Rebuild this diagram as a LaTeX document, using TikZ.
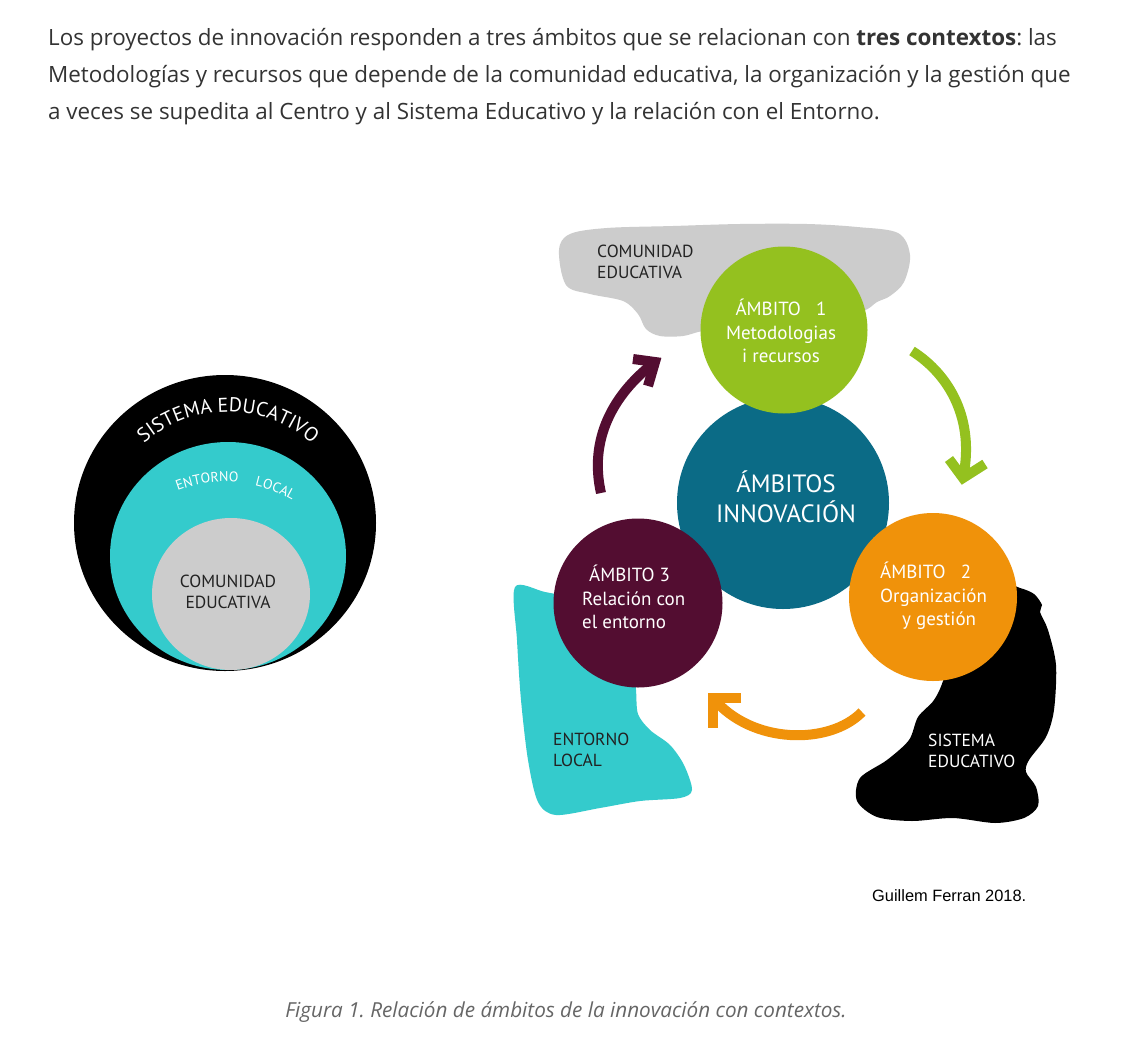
\documentclass[tikz,border=0pt]{standalone}
\usepackage{fontspec}
\setmainfont{Open Sans}
\newfontfamily\dfont{PT Sans}
\newfontfamily\arialf{Liberation Sans}
\usetikzlibrary{decorations.text}
\frenchspacing
\definecolor{cteal}{RGB}{52,203,204}
\definecolor{cgray}{RGB}{204,204,204}
\definecolor{cdark}{RGB}{11,107,134}
\definecolor{cgreen}{RGB}{148,193,31}
\definecolor{corange}{RGB}{240,146,10}
\definecolor{cmaroon}{RGB}{83,13,49}
\definecolor{ctext}{RGB}{51,51,51}
\definecolor{ccap}{RGB}{102,102,102}
\definecolor{cdtext}{RGB}{34,34,34}
\tikzset{
  hdr/.style={anchor=base west, inner sep=0, text=ctext, font=\fontsize{22.4}{26}\selectfont},
  disc/.style={circle, inner sep=0, draw=none},
  lbl/.style={inner sep=0, text=white, font=\dfont\fontsize{19}{23.5}\selectfont},
  dlbl/.style={inner sep=0, text=cdtext, font=\dfont\fontsize{17.5}{21}\selectfont, align=left},
  arc line/.style={line width=10pt, line cap=butt},
  chev/.style={line width=10pt, line join=miter, line cap=butt},
}
\begin{document}
\begin{tikzpicture}[x=1pt,y=-1pt]
\useasboundingbox[fill=white] (0,0) rectangle (1138,1044);

% header text
\node[hdr] (h1) at (48,45) {Los proyectos de innovación responden a tres ámbitos que se relacionan con \textbf{tres contextos}: las};
\node[hdr] (h2) at (48,82) {Metodologías y recursos que depende de la comunidad educativa, la organización y la gestión que};
\node[hdr] (h3) at (48,119) {a veces se supedita al Centro y al Sistema Educativo y la relación con el Entorno.};

% ---------- left nested circles ----------
\fill[black] (225,523) ellipse[x radius=151, y radius=148];
\fill[cteal] (228,556) ellipse[x radius=118, y radius=114];
\fill[cgray] (231,594) ellipse[x radius=79, y radius=76];
\path[decorate, decoration={text along path, text align=center,
  text={|\dfont\fontsize{20}{20}\selectfont\color{white}|SISTEMA EDUCATIVO}}]
  (144.0pt,-443.4pt) arc[start angle=131, end angle=49, radius=128pt];
\path[decorate, decoration={text along path, text align=center,
  text={|\dfont\fontsize{14}{14}\selectfont\color{white}|ENTORNO}}]
  (172.6pt,-492.6pt) arc[start angle=113, end angle=82, radius=134pt];
\path[decorate, decoration={text along path, text align=center,
  text={|\dfont\fontsize{14}{14}\selectfont\color{white}|LOCAL}}]
  (250.6pt,-484.5pt) arc[start angle=79, end angle=58, radius=134pt];
\node[dlbl, align=center] (lcom) at (228,592) {COMUNIDAD\\EDUCATIVA};

% ---------- right: context blobs ----------
\fill[cgray] plot[smooth cycle, tension=0.55] coordinates {
  (559,250) (570,234) (607,228) (673,226) (740,224) (807,224) (857,227)
  (898,233) (910,255) (904,282) (890,296) (877,302) (860,312) (800,325)
  (730,330) (703,331) (683,336) (660,336) (646,329) (638,314) (623,301)
  (590,294) (566,285)};
\fill[cteal] plot[smooth cycle, tension=0.5] coordinates {
  (515,587) (545,592) (580,600) (615,620) (633,660) (636,690) (638,714)
  (650,730) (670,745) (684,765) (692,790) (680,798) (640,801) (600,808)
  (556,815) (538,802) (528,760) (521,700) (517,640)};
\fill[black] plot[smooth cycle, tension=0.5] coordinates {
  (1000,585) (1020,588) (1034,594) (1042,605) (1040,612) (1048,630)
  (1056,665) (1054,710) (1046,737) (1029,760) (1026,772) (1036,787)
  (1038,806) (1024,818) (995,823) (953,818) (912,821) (877,817) (857,801)
  (860,778) (887,760) (909,740) (918,717) (934,700) (944,678) (960,620)};
\node[dlbl, anchor=west] (tcom) at (597,262) {COMUNIDAD\\EDUCATIVA};
\node[dlbl, anchor=west] (tent) at (553,750) {ENTORNO\\LOCAL};
\node[dlbl, anchor=west, text=white] (tsis) at (928,751) {SISTEMA\\EDUCATIVO};

% ---------- right: circles ----------
\node[disc, fill=cdark, minimum size=212pt] (cen) at (783,503) {};
\node[disc, fill=cgreen, minimum size=167pt] (a1) at (784,330) {};
\node[disc, fill=corange, minimum size=168pt] (a2) at (933,597) {};
\node[disc, fill=cmaroon, minimum size=169pt] (a3) at (638,603) {};

\node[lbl, font=\dfont\fontsize{25}{30}\selectfont, align=center] (tcen) at (786,497) {ÁMBITOS\\INNOVACIÓN};
\node[lbl, align=center] (t1) at (781,331) {ÁMBITO\ \ \ 1\\Metodologias\\i recursos};
\node[lbl, align=left, anchor=west] (t2) at (880,596) {ÁMBITO\ \ \ 2\\Organización\\\hspace*{22pt}y gestión};
\node[lbl, align=left, anchor=west] (t3) at (582,597) {\hspace*{7pt}ÁMBITO 3\\Relación con\\el entorno};

% ---------- arrows ----------
\coordinate (g0) at (912,351);
\coordinate (g1) at (963,478);
\draw[arc line, cgreen] (g0) .. controls (950,375) and (975,420) .. (g1);
\draw[chev, cgreen] (949,459) -- (g1) -- (985,464);

\coordinate (o0) at (862,712);
\coordinate (o1) at (713,698);
\draw[arc line, corange] (o0) .. controls (830,745) and (752,745) .. (o1);
\draw[chev, corange] (741,698) -- (o1) -- (713,728);

\coordinate (m0) at (601,493);
\coordinate (m1) at (655,362);
\draw[arc line, cmaroon] (m0) .. controls (589,440) and (612,395) .. (m1);
\draw[chev, cmaroon] (633,359) -- (m1) -- (648,386);

% ---------- credit and caption ----------
\node[anchor=west, inner sep=0, font=\arialf\fontsize{16.4}{18}\selectfont] (cred) at (872,896) {Guillem Ferran 2018.};
\node[inner sep=0, text=ccap, font=\itshape\fontsize{20.7}{24}\selectfont] (cap) at (566,1012) {Figura 1. Relación de ámbitos de la innovación con contextos.};
\end{tikzpicture}
\end{document}
